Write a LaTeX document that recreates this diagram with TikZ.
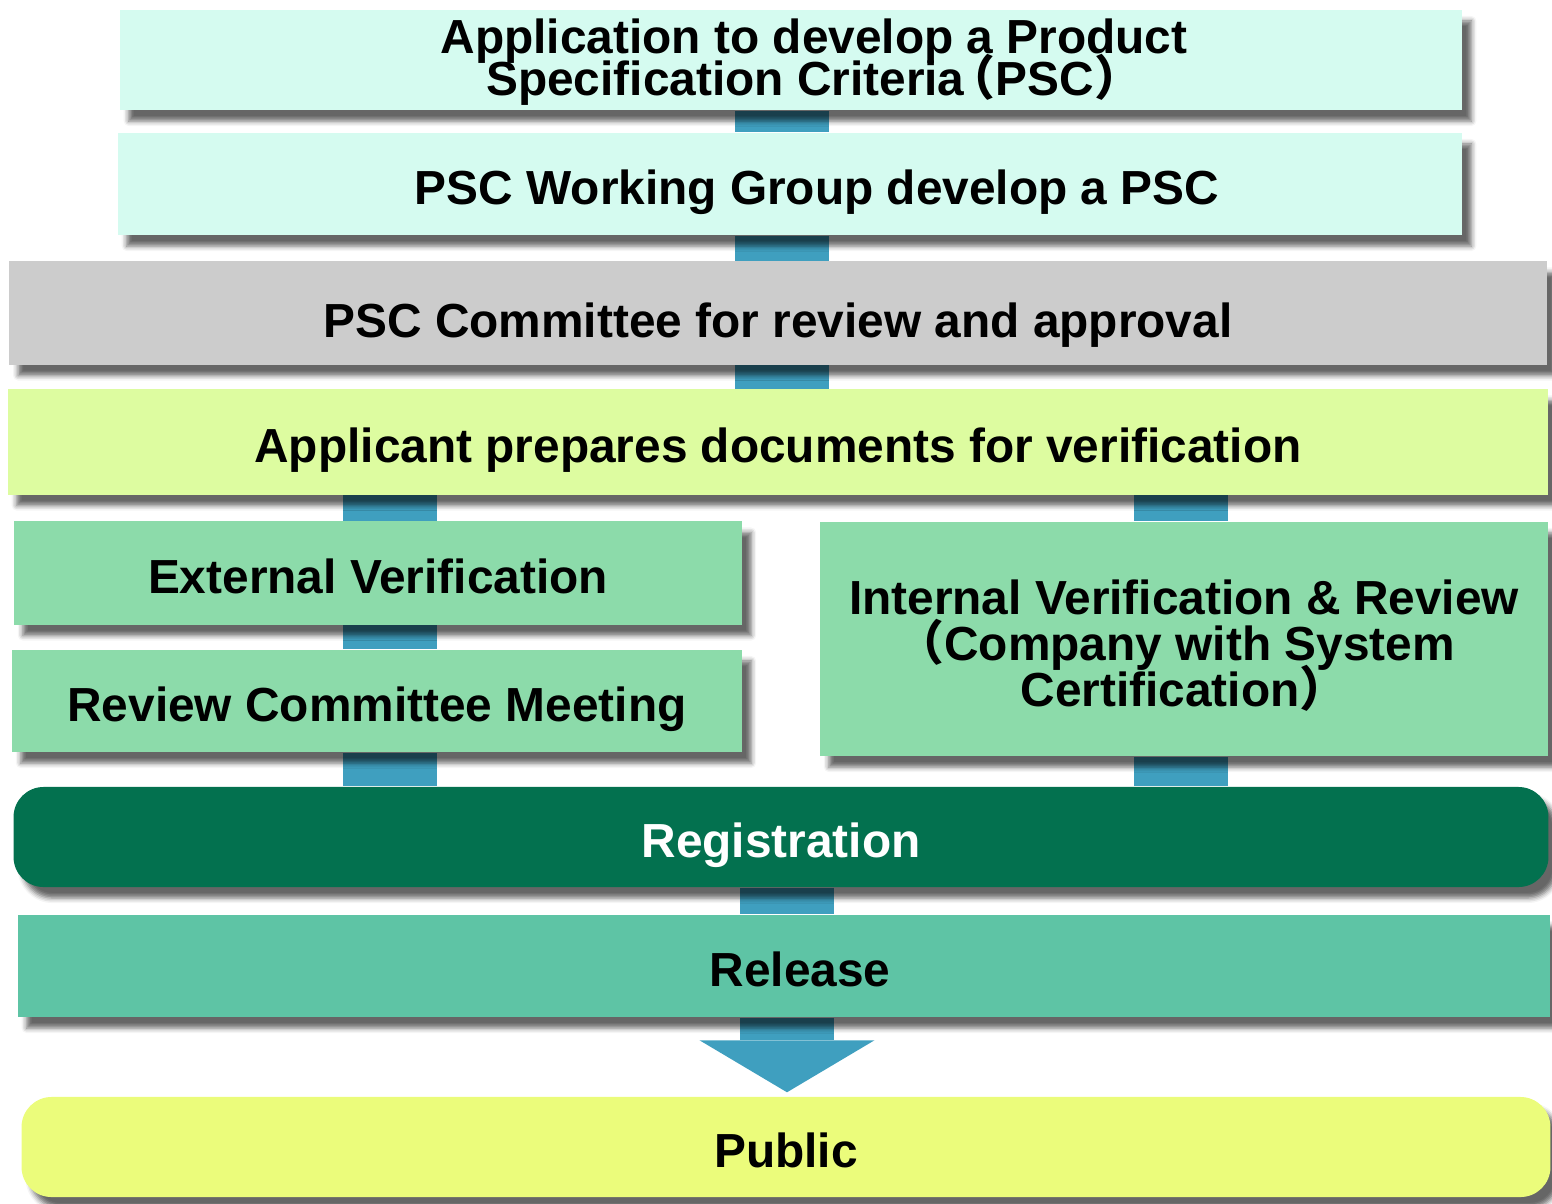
\documentclass[tikz,border=0pt]{standalone}
\usepackage{fontspec}
\setmainfont{Liberation Sans}
\newfontfamily\cjk{Noto Sans CJK SC}
\usetikzlibrary{shadows.blur,arrows.meta,backgrounds}

\definecolor{mint}{HTML}{D5FBF0}
\definecolor{pscgray}{HTML}{CCCCCC}
\definecolor{preplime}{HTML}{DDFCA0}
\definecolor{verigreen}{HTML}{8CDBAA}
\definecolor{reggreen}{HTML}{03714F}
\definecolor{relgreen}{HTML}{5EC4A5}
\definecolor{publime}{HTML}{EBFC7B}
\definecolor{linkblue}{HTML}{3F9FBF}

% full-width brackets
\newcommand{\fwopen}{{\kern-0.35em\cjk （}}
\newcommand{\fwclose}{{\cjk ）}}

\tikzset{
  stagetext/.style={align=center, inner sep=0pt,
    font={\fontsize{13.6}{13.1}\selectfont\bfseries\lineskiplimit=-20pt}},
  oneline/.style={text height=13pt, text depth=1.5pt},
  stage/.style={rectangle, stagetext,
    blur shadow={shadow xshift=0.09cm, shadow yshift=-0.11cm, shadow blur radius=0.05cm, shadow opacity=60}},
  link/.style={draw=linkblue, line width=0.93cm},
}

\begin{document}
\begin{tikzpicture}[x=0.01cm, y=-0.01cm]
\useasboundingbox (0,0) rectangle (1552,1203);
% upper stages
\node[stage, fill=mint, minimum width=13.42cm, minimum height=1cm,
  label={[stagetext, font={\fontsize{13.6}{12}\selectfont\bfseries\lineskiplimit=-20pt}, xshift=0.23cm, yshift=-0.025cm]center:{Application to develop a Product\\Specification Criteria\fwopen PSC\fwclose}}] (app) at (791,60) {};
\node[stage, fill=mint, minimum width=13.44cm, minimum height=1.02cm,
  label={[stagetext, oneline, xshift=0.27cm]center:PSC Working Group develop a PSC}] (wg) at (790,184) {};
\node[stage, oneline, text height=14pt, text depth=0pt, fill=pscgray, minimum width=15.37cm, minimum height=1.03cm] (psc) at (778,313) {PSC Committee for review and approval};
\node[stage, oneline, fill=preplime, minimum width=15.40cm, minimum height=1.05cm] (prep) at (778,442) {Applicant prepares documents for verification};
% two verification routes
\node[stage, oneline, fill=verigreen, minimum width=7.28cm, minimum height=1.03cm] (ext) at (378,573) {External Verification};
\node[stage, oneline, fill=verigreen, minimum width=7.30cm, minimum height=1.02cm] (rcm) at (377,701) {Review Committee Meeting};
\node[stage, fill=verigreen, minimum width=7.28cm, minimum height=2.34cm,
  label={[stagetext, yshift=-0.07cm]center:{Internal Verification \& Review\\\fwopen Company with System\\Certification\fwclose}}] (intv) at (1184,639) {};
% lower stages
\node[stage, oneline, fill=reggreen, text=white, rounded corners=0.3cm, minimum width=15.34cm, minimum height=1cm] (reg) at (781,837) {Registration};
\node[stage, fill=relgreen, minimum width=15.32cm, minimum height=1.02cm,
  label={[stagetext, oneline, xshift=0.16cm]center:Release}] (rel) at (784,966) {};
\node[stage, oneline, fill=publime, rounded corners=0.3cm, minimum width=15.28cm, minimum height=1cm] (pub) at (786,1147) {Public};
% connecting bars
\coordinate (mid) at (782,0);
\coordinate (lft) at (390,0);
\coordinate (rgt) at (1181,0);
\coordinate (low) at (787,0);
\begin{scope}[on background layer]
\draw[link] (app.south -| mid) -- (wg.north -| mid);
\draw[link] (wg.south -| mid) -- (psc.north -| mid);
\draw[link] (psc.south -| mid) -- (prep.north -| mid);
\draw[link] (prep.south -| lft) -- (ext.north -| lft);
\draw[link] (ext.south -| lft) -- (rcm.north -| lft);
\draw[link] (rcm.south -| lft) -- (reg.north -| lft);
\draw[link] (prep.south -| rgt) -- (intv.north -| rgt);
\draw[link] (intv.south -| rgt) -- (reg.north -| rgt);
\draw[link] (reg.south -| low) -- (rel.north -| low);
\draw[link, shorten >=0.04cm, -{Triangle[width=1.75cm, length=0.52cm, line width=0pt]}] (rel.south -| low) -- (pub.north -| low);
\end{scope}
\end{tikzpicture}
\end{document}
